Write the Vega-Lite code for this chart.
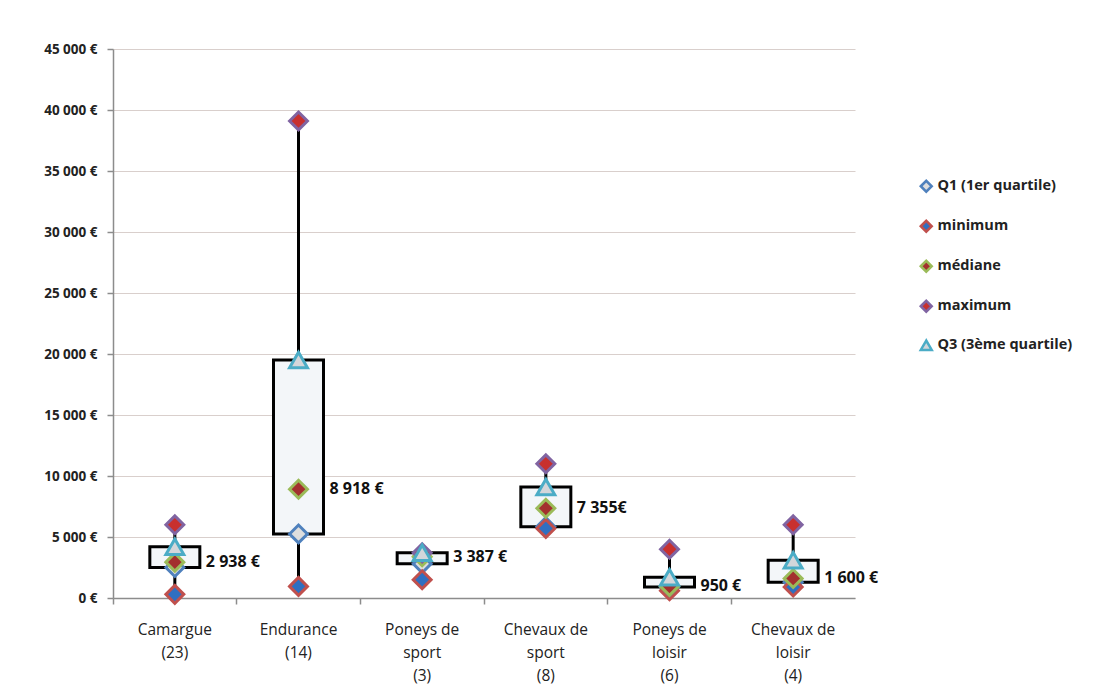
{
  "$schema": "https://vega.github.io/schema/vega-lite/v6.json",
  "autosize": {"type": "none"},
  "width": 742,
  "height": 549,
  "padding": {"left": 113, "top": 49, "right": 249, "bottom": 98},
  "background": "#ffffff",
  "config": {
    "font": "Open Sans",
    "view": {"stroke": null}
  },
  "data": {
    "values": [
      {"cat": "Camargue|(23)", "min": 300, "q1": 2500, "median": 2938, "q3": 4200, "max": 6000, "label": "2 938 €"},
      {"cat": "Endurance|(14)", "min": 950, "q1": 5250, "median": 8918, "q3": 19500, "max": 39100, "label": "8 918 €"},
      {"cat": "Poneys de|sport|(3)", "min": 1500, "q1": 2800, "median": 3387, "q3": 3700, "max": 3700, "label": "3 387 €"},
      {"cat": "Chevaux de|sport|(8)", "min": 5700, "q1": 5850, "median": 7355, "q3": 9100, "max": 11000, "label": "7 355€"},
      {"cat": "Poneys de|loisir|(6)", "min": 600, "q1": 900, "median": 950, "q3": 1700, "max": 4000, "label": "950 €"},
      {"cat": "Chevaux de|loisir|(4)", "min": 900, "q1": 1300, "median": 1600, "q3": 3100, "max": 6000, "label": "1 600 €"}
    ]
  },
  "encoding": {
    "x": {
      "field": "cat", "type": "nominal", "sort": null,
      "scale": {"paddingInner": 0, "paddingOuter": 0},
      "axis": {
        "title": null, "labelAngle": 0, "labelExpr": "split(datum.label, '|')",
        "labelFontSize": 15.5, "labelColor": "#222222", "labelLineHeight": 23,
        "labelPadding": 18, "labelBaseline": "top",
        "domainColor": "#8c8c8c", "domainWidth": 1.5, "tickColor": "#8c8c8c", "tickWidth": 1.5, "tickSize": 6,
        "bandPosition": 0, "grid": false
      }
    }
  },
  "layer": [
    {
      "mark": {"type": "rule", "color": "#000000", "strokeWidth": 3},
      "encoding": {
        "y": {
          "field": "min", "type": "quantitative",
          "scale": {"domain": [0, 45000], "nice": false},
          "axis": {
            "title": null, "values": [0, 5000, 10000, 15000, 20000, 25000, 30000, 35000, 40000, 45000],
            "labelExpr": "replace(format(datum.value, ',d'), ',', ' ') + ' €'",
            "labelFontSize": 13.5, "labelFontWeight": "bold", "labelColor": "#222222", "labelPadding": 10,
            "domainColor": "#8c8c8c", "domainWidth": 1.5, "tickColor": "#8c8c8c", "tickWidth": 1.5, "tickSize": 6,
            "gridColor": "#d9cfcc", "gridWidth": 1.2
          }
        },
        "y2": {"field": "max"}
      }
    },
    {
      "mark": {"type": "bar", "width": 50, "fill": "#f3f6f9", "stroke": "#000000", "strokeWidth": 3},
      "encoding": {
        "y": {"field": "q1", "type": "quantitative"},
        "y2": {"field": "q3"}
      }
    },
    {
      "mark": {"type": "text", "align": "left", "baseline": "middle", "dx": 31, "fontSize": 16, "fontWeight": "bold", "color": "#111111"},
      "encoding": {
        "y": {"field": "median", "type": "quantitative"},
        "text": {"field": "label"}
      }
    },
    {
      "transform": [{"fold": ["q1", "min", "median", "max", "q3"], "as": ["key", "value"]}],
      "mark": {"type": "point", "filled": false, "strokeWidth": 3, "opacity": 1, "fillOpacity": 1},
      "encoding": {
        "y": {"field": "value", "type": "quantitative"},
        "shape": {
          "field": "key", "type": "nominal",
          "scale": {"domain": ["q1", "min", "median", "max", "q3"], "range": ["diamond", "diamond", "diamond", "diamond", "triangle-up"]}
        },
        "fill": {
          "field": "key", "type": "nominal",
          "scale": {"domain": ["q1", "min", "median", "max", "q3"], "range": ["#dedede", "#2f6fc1", "#a3302e", "#c8302e", "#d3d6da"]},
          "legend": {
            "title": null, "orient": "none", "legendX": 806, "legendY": 130,
            "labelExpr": "{'q1': 'Q1 (1er quartile)', 'min': 'minimum', 'median': 'médiane', 'max': 'maximum', 'q3': 'Q3 (3ème quartile)'}[datum.value]",
            "labelFontSize": 14.5, "labelFontWeight": "bold", "labelColor": "#222222",
            "rowPadding": 18, "symbolSize": 120, "symbolStrokeWidth": 2.5, "labelOffset": 4
          }
        },
        "stroke": {
          "field": "key", "type": "nominal",
          "scale": {"domain": ["q1", "min", "median", "max", "q3"], "range": ["#4f81bd", "#c0504d", "#9bbb59", "#8064a2", "#4bacc6"]}
        },
        "size": {"value": 320}
      }
    }
  ]
}
